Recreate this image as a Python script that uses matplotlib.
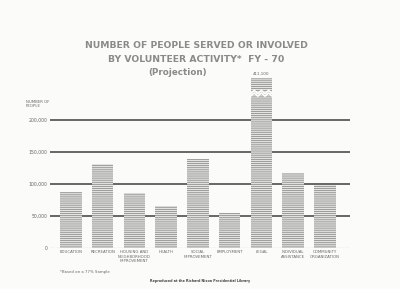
import numpy as np
import matplotlib.pyplot as plt

# valores (personas, FY-70)
categories = [
    "EDUCATION",
    "RECREATION",
    "HOUSING AND\nNEIGHBORHOOD\nIMPROVEMENT",
    "HEALTH",
    "SOCIAL\nIMPROVEMENT",
    "EMPLOYMENT",
    "LEGAL",
    "INDIVIDUAL\nASSISTANCE",
    "COMMUNITY\nORGANIZATION",
]
people = [87500, 131000, 86000, 65500, 139000, 55000, 411100, 116500, 98000]
yticks = [0, 50000, 100000, 150000, 200000]
ytick_labels = ["0", "50,000", "100,000", "150,000", "200,000"]

# la barra LEGAL esta cortada en el original
display_cap = 265000

fig = plt.figure(figsize=(4, 2.89), dpi=100)
fig.patch.set_facecolor("#fbfbf9")
ax = fig.add_axes([0.125, 0.143, 0.75, 0.615])
ax.set_facecolor("#fbfbf9")

plt.rcParams["hatch.linewidth"] = 0.6

x = np.arange(len(categories))
heights = [min(v, display_cap) for v in people]

for y in yticks[1:]:
    ax.axhline(y, color="#666666", lw=1.4, zorder=0)
ax.axhline(0, color="#888888", lw=0.8, ls=(0, (4, 1)), zorder=3)

ax.bar(
    x,
    heights,
    width=0.68,
    color="#e4e4e2",
    edgecolor="#8f8f8f",
    hatch="--------",
    linewidth=0,
    zorder=2,
)

# marca de corte y etiqueta de la barra LEGAL
i_legal = people.index(max(people))
if people[i_legal] > display_cap:
    zx = np.linspace(x[i_legal] - 0.34, x[i_legal] + 0.34, 7)
    zy = display_cap - 24000 + np.array([0, 5000, 0, 5000, 0, 5000, 0])
    ax.plot(zx, zy, color="white", lw=1.2, zorder=4)
    ax.plot(zx, zy - 4000, color="white", lw=1.2, zorder=4)
ax.text(
    x[i_legal],
    heights[i_legal] + 4000,
    f"{people[i_legal]:,}",
    ha="center",
    va="bottom",
    fontsize=3,
    color="#666666",
)

ax.set_xlim(-0.66, 8.79)
ax.set_ylim(0, 278000)
ax.set_yticks(yticks)
ax.set_yticklabels(ytick_labels, fontsize=3.3, color="#666666")
ax.set_xticks(x)
ax.set_xticklabels(categories, fontsize=2.8, color="#666666", linespacing=1.1)
ax.tick_params(length=0, pad=2)
for s in ax.spines.values():
    s.set_visible(False)

fig.text(0.065, 0.625, "NUMBER OF\nPEOPLE", fontsize=2.8, color="#666666",
         ha="left", va="bottom", linespacing=1.1)

title_kw = dict(ha="center", va="center", color="#8a8a8a", fontweight="bold")
fig.text(0.49, 1 - 45.7 / 289, "NUMBER OF PEOPLE SERVED OR INVOLVED", fontsize=6.7, **title_kw)
fig.text(0.49, 1 - 59.3 / 289, "BY VOLUNTEER ACTIVITY*  FY - 70", fontsize=6.7, **title_kw)
fig.text(0.445, 1 - 72.7 / 289, "(Projection)", fontsize=6.3, **title_kw)

fig.text(0.15, 1 - 272 / 289, "*Based on a 77% Sample", fontsize=2.8, color="#666666",
         ha="left", va="center")
fig.text(0.5, 1 - 281 / 289, "Reproduced at the Richard Nixon Presidential Library",
         fontsize=2.4, color="#444444", ha="center", va="center", fontweight="bold")

fig.savefig("out.png", dpi=100, facecolor=fig.get_facecolor())
